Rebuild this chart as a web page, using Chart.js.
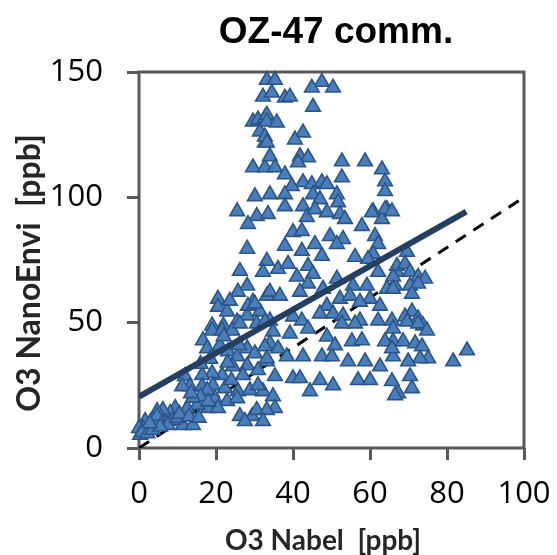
<!DOCTYPE html>
<html>
<head>
<meta charset="utf-8">
<script src="https://cdn.jsdelivr.net/npm/chart.js@4.4.0/dist/chart.umd.min.js"></script>
<style>
  html, body { margin: 0; padding: 0; background: #fff; }
  #wrap { width: 557px; height: 555px; }
</style>
</head>
<body>
<div id="wrap"><canvas id="ozChart" width="557" height="555"></canvas></div>
<script>
const chartTitle = 'OZ-47 comm.';
const xTitle = 'O3 Nabel  [ppb]';
const yTitle = 'O3 NanoEnvi  [ppb]';

// O3 Nabel (reference) [ppb]
const nabelX = [
  33.2, 35.3, 32.2, 29.6, 30.9, 32.7, 31.4, 32.7, 29.6, 32.7, 30.1, 47.5, 44.9, 50.4, 34.5, 37.9, 39.2, 45.2,
  33.2, 33.2, 35.8, 32.7, 33.2, 42.6, 40.5, 34.0, 41.8, 43.9, 41.3, 35.3, 37.9, 52.7, 58.7, 63.1, 52.7, 63.9,
  42.6, 44.9, 47.5, 48.8, 39.7, 34.0, 37.9, 45.2, 51.4, 63.9,
  64.4, 60.8, 63.1, 61.3, 62.1, 60.8, 69.6,
  25.5, 30.6, 28.3, 28.1, 26.2, 33.2, 32.2, 28.1, 25.7, 20.5, 20.5, 22.9, 29.6, 28.1, 25.5, 19.0, 21.9, 33.2,
  47.0, 33.5, 37.9, 42.6, 43.6, 45.7, 48.8, 51.7, 52.2, 53.5, 60.5, 63.9, 57.9, 40.0, 42.3, 49.6, 53.0,
  37.9, 42.3, 45.7, 47.5, 51.4, 56.1, 59.5, 36.1, 38.7, 43.9, 41.0, 45.2, 43.9, 47.8, 51.4, 55.6, 59.2,
  62.1, 64.4, 67.0, 66.5, 34.0, 36.6, 41.8, 52.2, 54.8, 60.0, 62.6, 57.4, 48.8, 47.0, 50.4, 53.0, 40.0,
  42.3, 34.0, 31.4, 57.4, 62.1, 65.7,
  65.7, 67.0, 69.1, 70.4, 72.5, 74.3, 66.0, 70.4, 72.5, 66.0, 70.9, 70.9, 69.1, 72.5, 73.8,
  66.0, 69.6, 72.5, 74.8, 66.0, 68.6, 71.7, 73.5, 75.1, 73.0, 69.9, 66.0, 70.4, 70.9, 67.3, 65.7, 81.6, 85.2,
  34.8, 39.2, 43.9, 48.8, 52.7, 56.1, 50.9, 55.3, 57.9, 63.9, 65.7, 34.0, 36.1, 38.4, 42.6, 47.5, 50.1,
  54.3, 58.7, 62.6, 33.2, 35.3, 40.0, 41.8, 47.0, 50.4, 44.4, 56.9, 60.0, 66.5, 32.2, 34.8, 35.3,
  23.6, 28.3, 30.1, 19.0, 21.6, 24.2, 26.2, 30.6, 32.7, 16.6, 17.7, 21.0, 23.1, 25.5, 28.1, 30.1, 32.7,
  33.2, 28.1, 30.9, 24.4, 21.6, 19.0, 16.4, 11.9, 13.2, 11.2, 16.4, 19.2, 22.3, 25.7, 28.8, 30.9, 19.7,
  22.9, 25.5, 17.9, 20.5, 15.1, 12.5, 9.4, 8.1, 6.2, 4.7, 3.6, 1.6, 1.0, 11.4, 8.8, 14.0, 6.8, 26.2,
  29.4, 30.6, 33.2, 32.2,
  17.7, 0.0, 4.7, 7.5, 9.9, 27.5, 0.3, 0.8, 2.2, 3.5, 5.5, 2.8, 10.5, 13.0, 15.5, 16.0, 18.0, 14.0,
  24.0, 27.0, 23.0, 26.0, 18.5, 16.0, 22.0, 13.5
];

// O3 NanoEnvi (sensor) [ppb]
const nanoY = [
  146.8, 146.8, 140.1, 130.2, 131.0, 131.7, 126.2, 121.8, 111.9, 111.9, 100.4, 146.0, 143.7, 143.7, 141.7, 139.7, 140.1, 136.1,
  132.9, 130.2, 129.8, 124.2, 121.8, 125.8, 123.0, 116.3, 116.3, 115.9, 113.9, 111.9, 109.1, 114.3, 114.3, 111.1, 107.9, 106.3,
  106.0, 105.2, 106.0, 105.2, 104.4, 101.2, 101.2, 101.2, 101.2, 102.4,
  95.2, 94.4, 91.3, 84.5, 81.3, 77.4, 78.2,
  94.4, 92.5, 89.3, 79.4, 70.6, 74.6, 70.2, 64.7, 62.3, 59.5, 56.3, 54.4, 58.3, 52.8, 50.4, 48.8, 48.8, 60.7,
  99.2, 93.3, 96.4, 96.4, 92.1, 95.2, 94.0, 98.0, 93.3, 91.3, 94.0, 95.2, 88.5, 86.1, 86.5, 84.5, 83.3,
  80.6, 78.6, 81.3, 76.6, 81.3, 76.2, 75.4, 71.4, 73.4, 72.6, 68.3, 69.4, 65.5, 63.5, 67.5, 64.7, 64.7,
  70.2, 63.5, 70.2, 64.7, 62.3, 60.7, 62.3, 59.5, 60.7, 59.5, 56.7, 58.3, 56.7, 53.6, 53.6, 52.8, 52.4,
  50.8, 50.8, 54.4, 50.8, 50.8, 50.8,
  94.4, 72.6, 73.4, 70.2, 68.3, 67.5, 68.3, 64.7, 65.5, 63.5, 61.5, 54.4, 52.4, 51.6, 48.8,
  47.6, 50.4, 49.6, 46.8, 42.5, 42.5, 41.7, 40.5, 35.7, 35.7, 34.5, 36.5, 28.6, 23.8, 21.8, 26.6, 34.5, 38.9,
  46.4, 45.6, 47.6, 44.4, 49.6, 49.6, 40.9, 42.5, 42.9, 42.5, 39.7, 41.7, 39.7, 36.5, 36.5, 36.5, 36.5,
  34.5, 34.5, 32.5, 34.5, 28.6, 27.8, 27.8, 27.0, 25.0, 22.6, 27.0, 27.0, 21.0, 22.6, 20.6, 15.9,
  58.7, 56.7, 57.5, 46.8, 46.8, 46.8, 49.6, 49.6, 50.4, 42.9, 39.7, 40.9, 38.5, 36.5, 39.7, 37.7, 40.5,
  35.7, 32.9, 31.0, 32.5, 29.0, 29.8, 29.0, 28.6, 24.6, 24.6, 24.6, 25.0, 23.8, 22.6, 23.0, 25.0, 19.8,
  18.7, 19.8, 15.9, 15.9, 17.1, 15.9, 15.9, 13.9, 15.1, 14.7, 11.1, 10.7, 7.9, 9.1, 11.1, 9.1, 9.9, 12.7,
  12.7, 15.1, 15.1, 10.7,
  23.0, 7.9, 12.7, 9.1, 11.9, 10.7, 5.2, 6.3, 5.8, 7.2, 8.5, 9.8, 13.5, 12.5, 12.0, 20.5, 18.5, 20.0,
  27.0, 29.0, 34.0, 41.0, 35.5, 33.5, 44.5, 21.8
];

// linear fit and 1:1 line
const fitX = [0, 85];
const fitY = [20.5, 94.3];
const oneToOneX = [0, 100];
const oneToOneY = [0, 100];

const xTicks = [0, 20, 40, 60, 80, 100];
const yTicks = [0, 50, 100, 150];

const toPoints = (xs, ys) => xs.map((x, i) => ({ x: x, y: ys[i] }));

const frameColor = '#595959';

// plot border + text drawn by hand to place it like the original
const framePlugin = {
  id: 'frame',
  beforeDatasetsDraw(chart) {
    const { ctx, chartArea: a } = chart;
    ctx.save();
    ctx.strokeStyle = frameColor;
    ctx.lineWidth = 3;
    ctx.strokeRect(a.left, a.top, a.right - a.left, a.bottom - a.top);
    ctx.restore();
  },
  afterDraw(chart) {
    const ctx = chart.ctx;
    ctx.save();
    ctx.fillStyle = '#000';
    ctx.textAlign = 'center';
    ctx.textBaseline = 'middle';
    ctx.font = 'bold 37px "Liberation Sans", Arial, sans-serif';
    ctx.fillText(chartTitle, 336, 33);

    ctx.fillStyle = '#262626';
    ctx.font = 'bold 28px Lato, "Open Sans", sans-serif';
    ctx.fillText(xTitle, 323, 541);

    ctx.translate(30, 273);
    ctx.rotate(-Math.PI / 2);
    ctx.font = 'bold 32px Lato, "Open Sans", sans-serif';
    ctx.fillText(yTitle, 0, 0);
    ctx.restore();
  }
};

const ctx = document.getElementById('ozChart').getContext('2d');
new Chart(ctx, {
  type: 'scatter',
  data: {
    datasets: [
      {
        label: 'fit',
        data: toPoints(fitX, fitY),
        showLine: true,
        borderColor: '#243F60',
        borderWidth: 6,
        pointRadius: 0,
        order: 0
      },
      {
        label: 'OZ-47',
        data: toPoints(nabelX, nanoY),
        pointStyle: 'triangle',
        pointRadius: 8.5,
        backgroundColor: '#4A7EBB',
        borderColor: '#2C5587',
        borderWidth: 1.6,
        clip: false,
        order: 1
      },
      {
        label: '1:1',
        data: toPoints(oneToOneX, oneToOneY),
        showLine: true,
        borderColor: '#000',
        borderWidth: 3,
        borderDash: [12, 9],
        pointRadius: 0,
        order: 2
      }
    ]
  },
  options: {
    responsive: false,
    animation: false,
    layout: { padding: { top: 72, right: 33, left: 0, bottom: 0 } },
    plugins: {
      legend: { display: false },
      tooltip: { enabled: false },
      title: { display: false }
    },
    scales: {
      x: {
        type: 'linear',
        min: 0,
        max: 100,
        afterFit(scale) {
          scale.height = 107;
          scale.paddingLeft = 0;
          scale.paddingRight = 0;
        },
        afterBuildTicks(scale) { scale.ticks = xTicks.map(v => ({ value: v })); },
        border: { display: false },
        grid: { drawOnChartArea: false, drawTicks: true, tickLength: 12, color: frameColor, lineWidth: 3 },
        ticks: {
          color: '#000',
          padding: 16,
          maxRotation: 0,
          font: { family: '"Open Sans", sans-serif', size: 31 }
        }
      },
      y: {
        type: 'linear',
        min: 0,
        max: 150,
        afterFit(scale) {
          scale.width = 139;
          scale.paddingTop = 0;
          scale.paddingBottom = 0;
        },
        afterBuildTicks(scale) { scale.ticks = yTicks.map(v => ({ value: v })); },
        border: { display: false },
        grid: { drawOnChartArea: false, drawTicks: true, tickLength: 12, color: frameColor, lineWidth: 3 },
        ticks: {
          color: '#000',
          padding: 24,
          font: { family: '"Open Sans", sans-serif', size: 31 }
        }
      }
    }
  },
  plugins: [framePlugin]
});
</script>
</body>
</html>
